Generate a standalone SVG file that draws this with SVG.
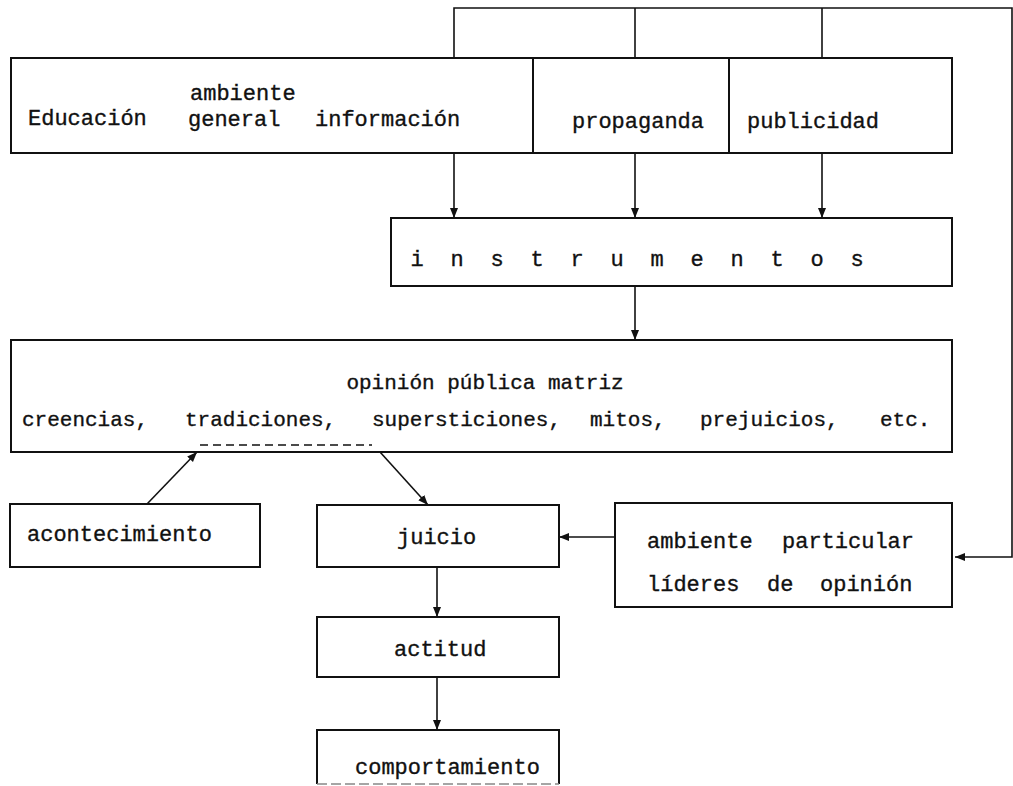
<svg xmlns="http://www.w3.org/2000/svg" width="1013" height="786" viewBox="0 0 1013 786">
<style>
.box{fill:none;stroke:#111;stroke-width:2}
.ln{fill:none;stroke:#111;stroke-width:1.6}
.t{font-family:"Liberation Mono","Courier New",monospace;font-size:22px;fill:#111;stroke:#111;stroke-width:0.35}
.s{font-size:21px}
</style>
<defs>
<marker id="ah" viewBox="0 0 10 10" refX="10" refY="5" markerWidth="10" markerHeight="10" markerUnits="userSpaceOnUse" orient="auto">
<path d="M0,1 L10,5 L0,9 z" fill="#111"/>
</marker>
</defs>
<rect width="1013" height="786" fill="#fff"/>

<g id="connectors">
<path class="ln" d="M454,58 V8 H1012 V557 H955" marker-end="url(#ah)"/>
<path class="ln" d="M635,8 V58"/>
<path class="ln" d="M822,8 V58"/>
<path class="ln" d="M454,153 V218" marker-end="url(#ah)"/>
<path class="ln" d="M635,153 V218" marker-end="url(#ah)"/>
<path class="ln" d="M822,153 V218" marker-end="url(#ah)"/>
<path class="ln" d="M635,286 V340" marker-end="url(#ah)"/>
<path class="ln" d="M147,504 L197,452" marker-end="url(#ah)"/>
<path class="ln" d="M380,452 L428,505" marker-end="url(#ah)"/>
<path class="ln" d="M615,537 H559" marker-end="url(#ah)"/>
<path class="ln" d="M437,567 V617" marker-end="url(#ah)"/>
<path class="ln" d="M437,677 V730" marker-end="url(#ah)"/>
</g>

<g id="fuentes">
<rect class="box" x="11" y="58" width="941" height="95"/>
<line class="box" x1="533" y1="58" x2="533" y2="153"/>
<line class="box" x1="729" y1="58" x2="729" y2="153"/>
<text class="t" x="28" y="125">Educación</text>
<text class="t" x="190" y="100">ambiente</text>
<text class="t" x="188" y="126">general</text>
<text class="t" x="315" y="126">información</text>
<text class="t" x="572" y="128">propaganda</text>
<text class="t" x="747" y="128">publicidad</text>
</g>

<g id="instrumentos">
<rect class="box" x="391" y="218" width="561" height="68"/>
<text class="t" text-anchor="middle" x="417 457 497 537 577 617 657 697 737 777 817 857" y="266">instrumentos</text>
</g>

<g id="opinion">
<rect class="box" x="11" y="340" width="941" height="112"/>
<text class="t s" x="485" y="389" text-anchor="middle">opinión pública matriz</text>
<text class="t s" y="426"><tspan x="22">creencias,</tspan><tspan x="185">tradiciones,</tspan><tspan x="372">supersticiones,</tspan><tspan x="590">mitos,</tspan><tspan x="700">prejuicios,</tspan><tspan x="880">etc.</tspan></text>
<line x1="200" y1="445" x2="372" y2="445" stroke="#111" stroke-width="1.5" stroke-dasharray="8,5"/>
</g>

<g id="acontecimiento">
<rect class="box" x="10" y="504" width="250" height="63"/>
<text class="t" x="27" y="541">acontecimiento</text>
</g>

<g id="juicio">
<rect class="box" x="317" y="505" width="242" height="62"/>
<text class="t" x="397" y="544">juicio</text>
</g>

<g id="ambiente">
<rect class="box" x="615" y="503" width="337" height="104"/>
<text class="t" y="548"><tspan x="647">ambiente</tspan><tspan x="782">particular</tspan></text>
<text class="t" y="591"><tspan x="647">líderes</tspan><tspan x="767">de</tspan><tspan x="820">opinión</tspan></text>
</g>

<g id="actitud">
<rect class="box" x="317" y="617" width="242" height="60"/>
<text class="t" x="394" y="656">actitud</text>
</g>

<g id="comportamiento">
<path class="box" d="M317,784 V730 H559 V784"/>
<line x1="317" y1="784" x2="559" y2="784" stroke="#888" stroke-width="1.5" stroke-dasharray="10,4"/>
<text class="t" x="355" y="774">comportamiento</text>
</g>
</svg>
